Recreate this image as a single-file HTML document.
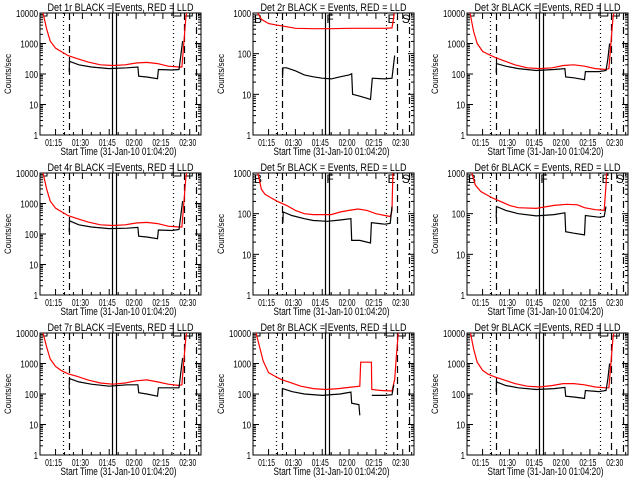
<!DOCTYPE html>
<html><head><meta charset="utf-8"><style>
html,body{margin:0;padding:0;background:#fff;}
svg{display:block;font-family:"Liberation Sans",sans-serif;}
</style></head><body>
<svg id="chart" width="640" height="480" viewBox="0 0 640 480"></svg>
<script>
// Time in minutes after 01:00; axis spans 01:06:18 .. 02:36:18 (labelled start 01:04:20)
const panelNames = ["1r","2r","3r","4r","5r","6r","7r","8r","9r"];
const panelDecades = [4,3,4,4,3,3,4,4,4];
const tickTimes = [15,30,45,60,75,90];
const tickLabels = ["01:15","01:30","01:45","02:00","02:15","02:30"];
const markerTimes = [19.2,22.6,46.8,48.9,80.5,86.7,93.5];
const markerStyles = ["dot","dash","solid","solid","dot","dash","dashdot"];

const red1T=[8,10,12,15,18,22,27,33,40,47,54,60,66,72,78,84,85.6,86.7,87.9,89];
const red1V=[10000,3000,1200,700,550,400,320,250,200,190,200,230,240,220,180,170,170,1000,8000,15000];
const blk1T=[22.6,22.8,28,35,45,55,61,61.5,66,72,72.5,80,84,85,86];
const blk1V=[120,260,200,170,150,160,170,85,80,70,140,135,140,400,1200];

const red2T=[8,9,11,15,20,25,30,40,50,60,70,80,84,85,85.5];
const red2V=[1500,1000,700,550,500,460,420,410,410,420,420,420,430,800,1500];
const blk2T=[22.8,23,25,30,35,40,45,50,55,60,61.5,62,66,70,72,73,80,84,85,85.5];
const blk2V=[25,45,45,38,30,27,25,24,27,30,32,10,9,8,7.5,25,24,25,60,90];

const red3T=[8,10,12,15,18,22,27,33,40,47,54,60,66,72,78,84,85.6,86.7,87.9,89];
const red3V=[10000,2500,1000,550,450,350,270,200,160,150,160,190,200,180,150,140,150,900,7000,15000];
const blk3T=[22.6,22.8,28,35,45,55,61,61.5,66,72,72.5,80,84,85,86];
const blk3V=[110,220,180,150,130,140,150,80,75,65,120,120,130,300,1000];

const red4T=[8,10,12,15,18,22,27,33,40,47,54,60,66,72,78,84,85.6,86.7,87.9,89];
const red4V=[10000,3000,1200,700,550,400,320,250,200,190,200,230,240,220,180,170,170,1000,8000,15000];
const blk4T=[22.6,22.8,28,35,45,55,61,61.5,66,72,72.5,80,84,85,86];
const blk4V=[120,270,200,170,150,155,165,85,80,70,135,130,140,400,1200];

const red5T=[8,9,11,13,16,20,25,30,35,40,50,55,60,65,70,75,80,83,84,84.5,85];
const red5V=[1500,1000,400,300,250,200,160,120,100,95,95,110,120,130,120,100,90,85,120,1000,2000];
const blk5T=[23,23.2,28,35,40,48,55,61,61.5,66,72,72.5,80,83,84];
const blk5V=[60,110,90,75,68,65,70,75,22,22,19,60,55,58,150];

const red6T=[8,9,11,14,20,25,30,35,45,55,62,68,72,78,83,84,84.5];
const red6V=[1500,1000,500,350,250,200,160,140,135,160,170,165,140,125,120,500,1500];
const blk6T=[22.6,22.8,28,35,45,55,61,61.5,66,72,72.5,80,83,84];
const blk6V=[80,150,120,100,88,95,105,36,33,30,90,82,85,150];

const red7T=[8,10,12,15,18,22,27,33,40,47,54,60,66,72,78,84,85.6,86.7,87.9,89];
const red7V=[10000,3500,1400,800,600,460,380,290,230,210,230,270,290,250,210,190,200,1200,8000,15000];
const blk7T=[22.6,22.8,28,35,45,55,61,61.5,66,72,72.5,80,84,85,86];
const blk7V=[150,320,250,210,180,200,200,110,100,85,160,160,160,500,1500];

const red8T=[8,10,12,15,18,22,27,33,40,47,54,60,66,66.5,72.5,72.7,78,84,85.5,86.5,87.5];
const red8V=[10000,3500,1200,500,400,300,240,180,150,140,150,165,180,1100,1100,140,130,125,300,2000,10000];
const blk8T=[22.6,22.8,28,35,45,55,61,61.5,65.5,66,66.1,72.7,80,84,85];
const blk8V=[80,150,120,100,90,100,115,50,45,20,null,90,90,95,200];

const red9T=[8,10,12,15,18,22,27,33,40,47,54,60,66,72,78,84,85.6,86.7,87.9,89];
const red9V=[12000,3000,1100,600,450,360,290,220,180,170,190,220,220,200,170,160,160,900,7000,15000];
const blk9T=[22.6,22.8,28,35,45,55,61,61.5,66,72,72.5,80,84,85,86];
const blk9V=[120,250,190,160,140,150,165,85,80,72,130,120,130,300,1000];

const redT=[red1T,red2T,red3T,red4T,red5T,red6T,red7T,red8T,red9T];
const redV=[red1V,red2V,red3V,red4V,red5V,red6V,red7V,red8V,red9V];
const blkT=[blk1T,blk2T,blk3T,blk4T,blk5T,blk6T,blk7T,blk8T,blk9T];
const blkV=[blk1V,blk2V,blk3V,blk4V,blk5V,blk6V,blk7V,blk8V,blk9V];

const NS="http://www.w3.org/2000/svg";
const svg=document.getElementById('chart');
function mk(tag,attrs,parent){const e=document.createElementNS(NS,tag);for(const k in attrs)e.setAttribute(k,attrs[k]);(parent||svg).appendChild(e);return e;}

const T0=6.3,T1=96.3;
for(let p=0;p<9;p++){
  const ox=Math.round((p%3)*213.33), oy=Math.floor(p/3)*160;
  const L=ox+40,R=ox+201,Tp=oy+13,B=oy+135;
  const dec=panelDecades[p];
  const xs=t=>L+(t-T0)/(T1-T0)*(R-L);
  const ys=v=>B-Math.log10(Math.max(v,1e-3))/dec*(B-Tp);
  const g=mk('g',{});
  
  
  const cid='clip'+p;
  const cp=mk('clipPath',{id:cid},g);mk('rect',{x:L,y:Tp,width:R-L,height:B-Tp},cp);
  const tt=mk('text',{x:(L+R)/2,y:oy+11,'text-anchor':'middle','font-size':11,textLength:146,lengthAdjust:'spacingAndGlyphs'},g);
  tt.textContent='Det '+panelNames[p]+' BLACK = Events, RED = LLD';
  
  
  const fr=mk('rect',{x:L,y:Tp,width:R-L,height:B-Tp,fill:'none',stroke:'#000','stroke-width':1},g);
  
  
  for(let d=0;d<=dec;d++){
    const y=ys(Math.pow(10,d));
    mk('line',{x1:L,x2:L+6,y1:y,y2:y,stroke:'#000'},g);
    mk('line',{x1:R-6,x2:R,y1:y,y2:y,stroke:'#000'},g);
    const s=String(Math.pow(10,d));
    const lb=mk('text',{x:L-2,y:y+4,'text-anchor':'end','font-size':10,textLength:4.4*s.length,lengthAdjust:'spacingAndGlyphs'},g);
    lb.textContent=s;
    
    
    if(d<dec){for(let m=2;m<=9;m++){const ym=ys(m*Math.pow(10,d));
      mk('line',{x1:L,x2:L+3,y1:ym,y2:ym,stroke:'#000'},g);
      mk('line',{x1:R-3,x2:R,y1:ym,y2:ym,stroke:'#000'},g);}}
  }
  for(let i=0;i<tickTimes.length;i++){
    const x=xs(tickTimes[i]);
    mk('line',{x1:x,x2:x,y1:B,y2:B-6,stroke:'#000'},g);
    mk('line',{x1:x,x2:x,y1:Tp,y2:Tp+6,stroke:'#000'},g);
    const lb=mk('text',{x:x-2,y:B+11,'text-anchor':'middle','font-size':10,textLength:17,lengthAdjust:'spacingAndGlyphs'},g);
    lb.textContent=tickLabels[i];
    
    
  }
  for(let t=20;t<96;t+=5){if(t%15===0)continue;const x=xs(t);
    mk('line',{x1:x,x2:x,y1:B,y2:B-3,stroke:'#000'},g);mk('line',{x1:x,x2:x,y1:Tp,y2:Tp+3,stroke:'#000'},g);}
  const xt=mk('text',{x:(L+R)/2-2,y:B+20,'text-anchor':'middle','font-size':11,textLength:116,lengthAdjust:'spacingAndGlyphs'},g);
  xt.textContent='Start Time (31-Jan-10 01:04:20)';
  
  
  const yt=mk('text',{x:0,y:0,'text-anchor':'middle','font-size':9,textLength:40,lengthAdjust:'spacingAndGlyphs',transform:'translate('+(ox+11)+','+((Tp+B)/2)+') rotate(-90)'},g);
  yt.textContent='Counts/sec';
  
  
  const dashes={dot:'1,3',dash:'7,4',solid:'',dashdot:'7,3,1,3'};
  for(let i=0;i<markerTimes.length;i++){
    const x=Math.round(xs(markerTimes[i]))+0.5;
    const ml=mk('line',{x1:x,x2:x,y1:Tp,y2:B,stroke:'#000','stroke-width':1.2},g);
    if(dashes[markerStyles[i]])ml.setAttribute('stroke-dasharray',dashes[markerStyles[i]]);
    
    
  }
  if(dec===3){
    const letters=[['B',L+1],['F',xs(47.3)],['E',xs(81.5)],['S',xs(89.5)]];
    for(const [c,x] of letters){
      const lt=mk('text',{x:x,y:Tp+10,'font-size':12},g);
      lt.textContent=c;
      
      
    }
  } else {
    const bx=mk('path',{d:'M'+L+','+(Tp+3)+'h7v-3M'+(xs(46.8)+0.5)+','+(oy+3)+'v10M'+(xs(80.5)+0.5)+','+(oy+3)+'v13h8M'+(xs(87.5))+','+(Tp+3)+'h7v-3',fill:'none',stroke:'#000'},g);
    
    
  }
  function path(T,V){let d='',pen=false;for(let i=0;i<T.length;i++){if(V[i]==null){pen=false;continue;}
    d+=(pen?'L':'M')+xs(T[i]).toFixed(1)+','+ys(V[i]).toFixed(1);pen=true;}return d;}
  const rp=mk('path',{d:path(redT[p],redV[p]),fill:'none',stroke:'#ff0000','stroke-width':1.2,'clip-path':'url(#'+cid+')'},g);
  
  
  const bp=mk('path',{d:path(blkT[p],blkV[p]),fill:'none',stroke:'#000','stroke-width':1.2,'clip-path':'url(#'+cid+')'},g);
  
  
}
</script>
</body></html>
